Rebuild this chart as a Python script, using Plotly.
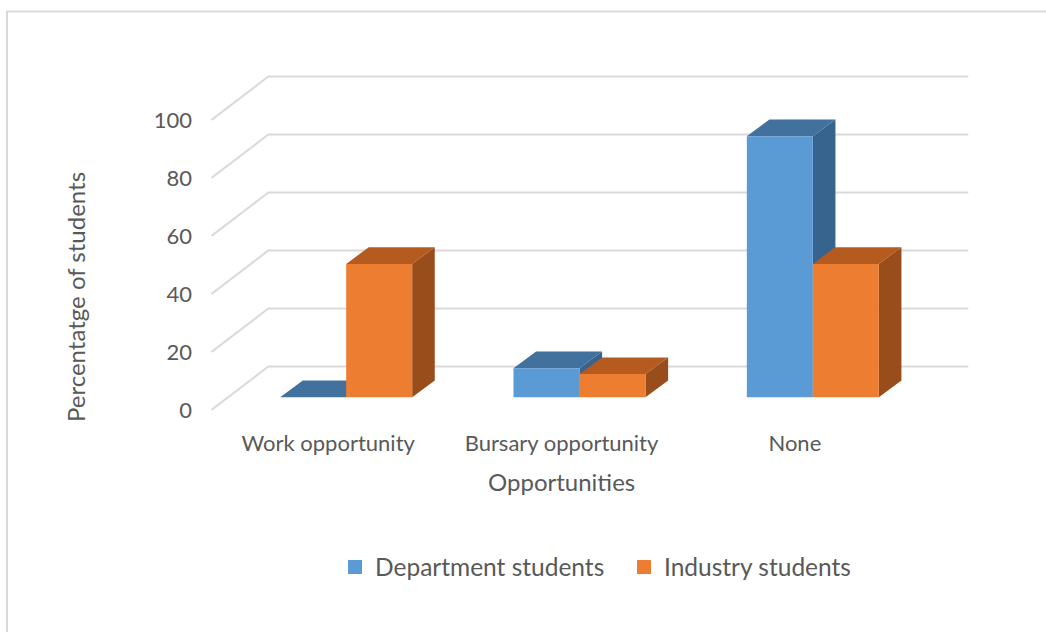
import plotly.graph_objects as go

# ---- data -------------------------------------------------------------
categories = ["Work opportunity", "Bursary opportunity", "None"]
department_students = [0, 10, 90]
industry_students = [46, 8, 46]
y_ticks = [0, 20, 40, 60, 80, 100]

series = [
    ("Department students", department_students,
     {"front": "#5B9BD5", "top": "#41719C", "side": "#36648F"}),
    ("Industry students", industry_students,
     {"front": "#ED7D31", "top": "#B65B1F", "side": "#994D1B"}),
]

# ---- pseudo-3D geometry (axis units) ----------------------------------
PX_X = 233.333          # pixels per category
PX_Y = 2.9              # pixels per percentage point
WALL_DX, WALL_DY = 56.8 / PX_X, 43.5 / PX_Y      # floor / wall depth
BAR_OX, BAR_OY = 18.0 / PX_X, 12.7 / PX_Y        # bar front plane offset
BAR_DX, BAR_DY = 22.6 / PX_X, 16.7 / PX_Y        # bar depth
BAR_W = 66.0 / PX_X

GRID = "#D9D9D9"
TEXT = "#595959"
FONT = "Lato"

fig = go.Figure()

# back wall + side wall gridlines
gx, gy = [], []
n = len(categories)
for v in y_ticks:
    gx += [-0.5, -0.5 + WALL_DX, n - 0.5 + WALL_DX, None]
    gy += [v, v + WALL_DY, v + WALL_DY, None]
fig.add_trace(go.Scatter(x=gx, y=gy, mode="lines",
                         line=dict(color=GRID, width=2),
                         hoverinfo="skip", showlegend=False))


def poly(xs, ys, color):
    fig.add_trace(go.Scatter(x=xs + [xs[0]], y=ys + [ys[0]], mode="lines",
                             fill="toself", fillcolor=color,
                             line=dict(width=0, color=color),
                             hoverinfo="skip", showlegend=False))


# boxes: top, side, then front, left to right so nearer faces overlap correctly
for i, _ in enumerate(categories):
    for k, (name, values, col) in enumerate(series):
        h = values[i]
        x0 = i - BAR_W + k * BAR_W + BAR_OX
        x1 = x0 + BAR_W
        b = BAR_OY
        t = BAR_OY + h
        poly([x0, x1, x1 + BAR_DX, x0 + BAR_DX],
             [t, t, t + BAR_DY, t + BAR_DY], col["top"])
        poly([x1, x1 + BAR_DX, x1 + BAR_DX, x1],
             [b, b + BAR_DY, t + BAR_DY, t], col["side"])
        poly([x0, x1, x1, x0], [b, b, t, t], col["front"])

# legend entries (square swatches)
for name, values, col in series:
    fig.add_trace(go.Scatter(x=[None], y=[None], name=name, mode="markers",
                             marker=dict(symbol="square", size=14,
                                         color=col["front"],
                                         line=dict(width=0))))

# ---- layout -------------------------------------------------------------
L, R, T, B = 211, 76, 60, 212
W, H = 1046, 632
plot_w = W - L - R
plot_h = H - T - B
x_min = -0.5 - 0.5 / PX_X
x_max = x_min + plot_w / PX_X
y_bottom = (410 - 420) / PX_Y
y_top = y_bottom + plot_h / PX_Y

fig.update_layout(
    width=W, height=H,
    margin=dict(l=L, r=R, t=T, b=B, pad=0),
    paper_bgcolor="white", plot_bgcolor="white",
    font=dict(family=FONT, color=TEXT),
    showlegend=True,
    legend=dict(orientation="h", x=(335 - L) / plot_w, xanchor="left",
                y=(T + plot_h - 567) / plot_h, yanchor="middle",
                entrywidth=244, entrywidthmode="pixels",
                font=dict(size=24.5, color=TEXT, family=FONT),
                itemclick=False, itemdoubleclick=False),
    xaxis=dict(range=[x_min, x_max], tickvals=list(range(n)),
               ticktext=categories, showgrid=False, zeroline=False,
               showline=False, ticks="", ticklabelstandoff=8,
               tickfont=dict(size=22, color=TEXT, family=FONT),
               fixedrange=True),
    yaxis=dict(range=[y_bottom, y_top], tickvals=y_ticks,
               showgrid=False, zeroline=False, showline=False, ticks="",
               ticklabelstandoff=18,
               tickfont=dict(size=22, color=TEXT, family=FONT),
               fixedrange=True),
    annotations=[
        dict(text="Percentatge of students", textangle=-90,
             xref="paper", yref="paper",
             x=(75 - L) / plot_w, y=(T + plot_h - 297) / plot_h,
             xanchor="center", yanchor="middle", showarrow=False,
             font=dict(size=24, color=TEXT, family=FONT)),
        dict(text="Opportunities", xref="paper", yref="paper",
             x=(561.5 - L) / plot_w, y=(T + plot_h - 481) / plot_h,
             xanchor="center", yanchor="middle", showarrow=False,
             font=dict(size=24, color=TEXT, family=FONT)),
    ],
    shapes=[dict(type="rect", xref="paper", yref="paper", layer="below",
                 x0=(7 - L) / plot_w, x1=1.3,
                 y0=-1.0, y1=(T + plot_h - 11.5) / plot_h,
                 line=dict(color=GRID, width=2), fillcolor="rgba(0,0,0,0)")],
)

fig.write_html("out.html")
